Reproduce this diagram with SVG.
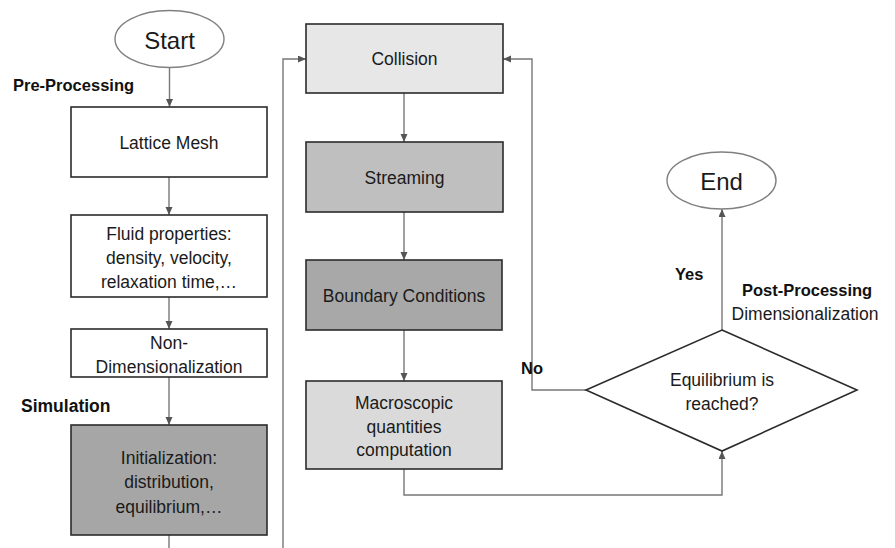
<svg xmlns="http://www.w3.org/2000/svg" width="895" height="548" viewBox="0 0 895 548">
<defs>
<marker id="arr" markerWidth="9" markerHeight="8" refX="8" refY="3.5" orient="auto" markerUnits="userSpaceOnUse">
<path d="M0,0 L8,3.5 L0,7 z" fill="#555"/>
</marker>
<style>
.box{stroke:#2b2b2b;stroke-width:1.6}
.term{fill:#fff;stroke:#808080;stroke-width:1.4}
.t{font-family:"Liberation Sans",Arial,sans-serif;font-size:17.5px;fill:#1a1a1a;text-anchor:middle;dominant-baseline:central}
.big{font-size:24px}
.lbl{font-family:"Liberation Sans",Arial,sans-serif;font-size:16.5px;font-weight:bold;fill:#111;dominant-baseline:central}
.c{fill:none;stroke:#777;stroke-width:1.4}
</style>
</defs>
<rect width="895" height="548" fill="#fff"/>

<g id="connectors">
<path class="c" d="M169.5 68 V107" marker-end="url(#arr)"/>
<path class="c" d="M169 177 V215" marker-end="url(#arr)"/>
<path class="c" d="M169 297 V329" marker-end="url(#arr)"/>
<path class="c" d="M169 377 V425" marker-end="url(#arr)"/>
<path class="c" d="M169 535 V548"/>
<path class="c" d="M283 548 V59 H306" marker-end="url(#arr)"/>
<path class="c" d="M404 93 V142" marker-end="url(#arr)"/>
<path class="c" d="M404 212 V260" marker-end="url(#arr)"/>
<path class="c" d="M404 330 V381" marker-end="url(#arr)"/>
<path class="c" d="M404 469 V495 H722 V451" marker-end="url(#arr)"/>
<path class="c" d="M586 390 H532 V59 H503" marker-end="url(#arr)"/>
<path class="c" d="M722 330 V209" marker-end="url(#arr)"/>
</g>

<g id="start">
<ellipse class="term" cx="169.5" cy="39" rx="54.5" ry="28.5"/>
<text class="t big" x="169.5" y="40">Start</text>
</g>

<g id="lattice">
<rect class="box" x="71" y="107" width="196" height="70" fill="#fff"/>
<text class="t" x="169" y="143">Lattice Mesh</text>
</g>

<g id="fluid">
<rect class="box" x="71" y="215" width="196" height="82" fill="#fff"/>
<text class="t" x="169" y="234">Fluid properties:</text>
<text class="t" x="169" y="258">density, velocity,</text>
<text class="t" x="169" y="282">relaxation time,…</text>
</g>

<g id="nondim">
<rect class="box" x="71" y="329" width="196" height="48" fill="#fff"/>
<text class="t" x="169" y="343">Non-</text>
<text class="t" x="169" y="367">Dimensionalization</text>
</g>

<g id="init">
<rect class="box" x="71" y="425" width="196" height="110" fill="#a6a6a6"/>
<text class="t" x="169" y="458">Initialization:</text>
<text class="t" x="169" y="482">distribution,</text>
<text class="t" x="169" y="507">equilibrium,…</text>
</g>

<g id="collision">
<rect class="box" x="306" y="24" width="197" height="69" fill="#e7e7e7"/>
<text class="t" x="404.5" y="59">Collision</text>
</g>

<g id="streaming">
<rect class="box" x="306" y="142" width="197" height="70" fill="#bfbfbf"/>
<text class="t" x="404.5" y="178">Streaming</text>
</g>

<g id="boundary">
<rect class="box" x="306" y="260" width="196" height="70" fill="#a8a8a8"/>
<text class="t" x="404" y="296">Boundary Conditions</text>
</g>

<g id="macro">
<rect class="box" x="306" y="381" width="196" height="88" fill="#dadada"/>
<text class="t" x="404" y="403">Macroscopic</text>
<text class="t" x="404" y="427">quantities</text>
<text class="t" x="404" y="450">computation</text>
</g>

<g id="decision">
<polygon class="box" points="722,330 857,390 722,451 586,390" fill="#fff"/>
<text class="t" x="722" y="380">Equilibrium is</text>
<text class="t" x="722" y="404">reached?</text>
</g>

<g id="end">
<ellipse class="term" cx="721.5" cy="180.5" rx="54.5" ry="28.5"/>
<text class="t big" x="721.5" y="181">End</text>
</g>

<g id="labels">
<text class="lbl" x="13" y="85">Pre-Processing</text>
<text class="lbl" x="21" y="406" style="font-size:17.5px">Simulation</text>
<text class="lbl" x="521" y="368">No</text>
<text class="lbl" x="675" y="274">Yes</text>
<text class="lbl" x="742" y="290">Post-Processing</text>
<text class="t" x="805" y="314">Dimensionalization</text>
</g>
</svg>
